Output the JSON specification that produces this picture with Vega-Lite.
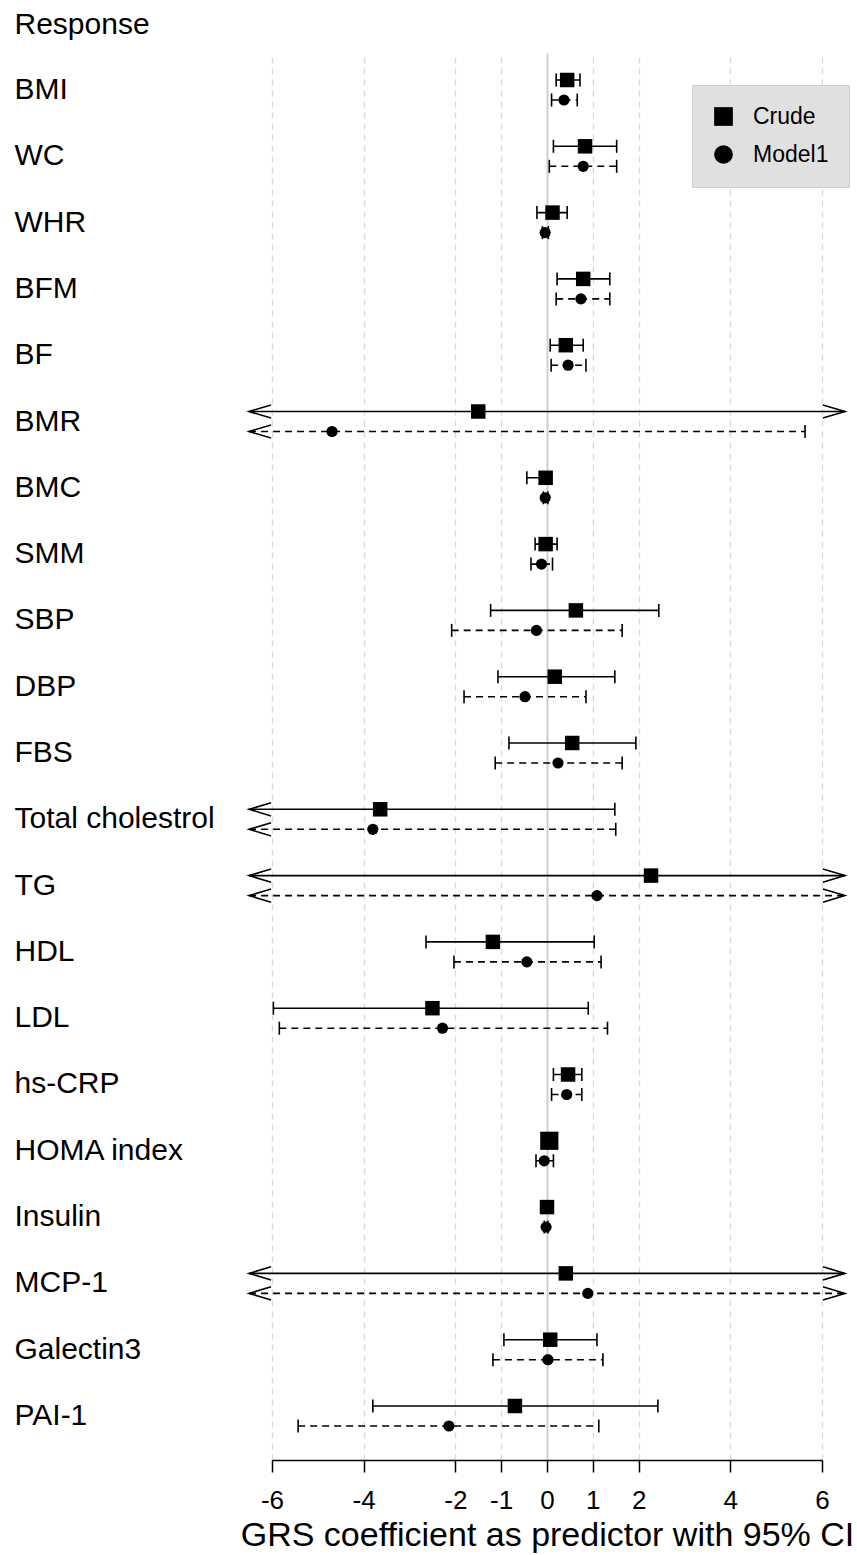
{
  "$schema": "https://vega.github.io/schema/vega-lite/v6.json",
  "width": 550,
  "height": 1407,
  "autosize": {"type": "none"},
  "padding": {"left": 272, "top": 53, "right": 35, "bottom": 95},
  "background": "white",
  "config": {"view": {"stroke": null}, "font": "Liberation Sans"},
  "data": {"values": [
    {"response": "BMI", "model": "Crude", "est": 0.44, "lo": 0.2, "hi": 0.72},
    {"response": "BMI", "model": "Model1", "est": 0.37, "lo": 0.1, "hi": 0.66},
    {"response": "WC", "model": "Crude", "est": 0.83, "lo": 0.14, "hi": 1.52},
    {"response": "WC", "model": "Model1", "est": 0.79, "lo": 0.05, "hi": 1.52},
    {"response": "WHR", "model": "Crude", "est": 0.12, "lo": -0.22, "hi": 0.44},
    {"response": "WHR", "model": "Model1", "est": -0.04, "lo": -0.1, "hi": 0.03},
    {"response": "BFM", "model": "Crude", "est": 0.79, "lo": 0.22, "hi": 1.37},
    {"response": "BFM", "model": "Model1", "est": 0.74, "lo": 0.2, "hi": 1.37},
    {"response": "BF", "model": "Crude", "est": 0.41, "lo": 0.07, "hi": 0.79},
    {"response": "BF", "model": "Model1", "est": 0.46, "lo": 0.09, "hi": 0.85},
    {"response": "BMR", "model": "Crude", "est": -1.5, "lo": -6.5, "hi": 6.5},
    {"response": "BMR", "model": "Model1", "est": -4.69, "lo": -6.5, "hi": 5.63},
    {"response": "BMC", "model": "Crude", "est": -0.03, "lo": -0.44, "hi": 0.1},
    {"response": "BMC", "model": "Model1", "est": -0.04, "lo": -0.08, "hi": 0.02},
    {"response": "SMM", "model": "Crude", "est": -0.03, "lo": -0.26, "hi": 0.22},
    {"response": "SMM", "model": "Model1", "est": -0.12, "lo": -0.35, "hi": 0.12},
    {"response": "SBP", "model": "Crude", "est": 0.63, "lo": -1.23, "hi": 2.44},
    {"response": "SBP", "model": "Model1", "est": -0.23, "lo": -2.08, "hi": 1.64},
    {"response": "DBP", "model": "Crude", "est": 0.17, "lo": -1.07, "hi": 1.48},
    {"response": "DBP", "model": "Model1", "est": -0.48, "lo": -1.81, "hi": 0.85},
    {"response": "FBS", "model": "Crude", "est": 0.55, "lo": -0.83, "hi": 1.94},
    {"response": "FBS", "model": "Model1", "est": 0.24, "lo": -1.13, "hi": 1.64},
    {"response": "Total cholestrol", "model": "Crude", "est": -3.64, "lo": -6.5, "hi": 1.48},
    {"response": "Total cholestrol", "model": "Model1", "est": -3.8, "lo": -6.5, "hi": 1.5},
    {"response": "TG", "model": "Crude", "est": 2.27, "lo": -6.5, "hi": 6.5},
    {"response": "TG", "model": "Model1", "est": 1.09, "lo": -6.5, "hi": 6.5},
    {"response": "HDL", "model": "Crude", "est": -1.18, "lo": -2.64, "hi": 1.03},
    {"response": "HDL", "model": "Model1", "est": -0.44, "lo": -2.03, "hi": 1.18},
    {"response": "LDL", "model": "Crude", "est": -2.5, "lo": -5.97, "hi": 0.9},
    {"response": "LDL", "model": "Model1", "est": -2.28, "lo": -5.84, "hi": 1.32},
    {"response": "hs-CRP", "model": "Crude", "est": 0.46, "lo": 0.14, "hi": 0.76},
    {"response": "hs-CRP", "model": "Model1", "est": 0.43, "lo": 0.1, "hi": 0.76},
    {"response": "HOMA index", "model": "Crude", "est": 0.05, "lo": -0.1, "hi": 0.2},
    {"response": "HOMA index", "model": "Model1", "est": -0.06, "lo": -0.24, "hi": 0.14},
    {"response": "Insulin", "model": "Crude", "est": 0.0, "lo": -0.05, "hi": 0.05},
    {"response": "Insulin", "model": "Model1", "est": -0.02, "lo": -0.06, "hi": 0.02},
    {"response": "MCP-1", "model": "Crude", "est": 0.41, "lo": -6.5, "hi": 6.5},
    {"response": "MCP-1", "model": "Model1", "est": 0.89, "lo": -6.5, "hi": 6.5},
    {"response": "Galectin3", "model": "Crude", "est": 0.07, "lo": -0.94, "hi": 1.09},
    {"response": "Galectin3", "model": "Model1", "est": 0.02, "lo": -1.18, "hi": 1.22},
    {"response": "PAI-1", "model": "Crude", "est": -0.7, "lo": -3.8, "hi": 2.42},
    {"response": "PAI-1", "model": "Model1", "est": -2.14, "lo": -5.43, "hi": 1.13}
  ]},
  "encoding": {
    "y": {
      "field": "response", "type": "nominal",
      "scale": {"domain": ["BMI","WC","WHR","BFM","BF","BMR","BMC","SMM","SBP","DBP","FBS","Total cholestrol","TG","HDL","LDL","hs-CRP","HOMA index","Insulin","MCP-1","Galectin3","PAI-1"], "paddingInner": 0, "paddingOuter": 0.111, "align": 0.262},
      "axis": {"title": "Response", "titleAngle": 0, "titleAlign": "left", "titleBaseline": "middle", "titleX": -258, "titleY": -29, "titleFontSize": 30, "titleFontWeight": "normal", "titleColor": "black", "titleFont": "Liberation Sans",
        "labelAlign": "left", "labelBaseline": "middle", "labelPadding": 258, "tickSize": 0, "ticks": false, "domain": false, "grid": false, "labelFontSize": 30, "labelColor": "black", "labelFont": "Liberation Sans", "labelLimit": 400}
    },
    "yOffset": {"field": "model", "type": "nominal", "scale": {"domain": ["Crude", "Model1"], "paddingInner": 0, "paddingOuter": 0.657}}
  },
  "layer": [
    {
      "mark": {"type": "rule", "color": "black", "strokeWidth": 1.6},
      "encoding": {
        "x": {"field": "lo", "type": "quantitative", "title": "GRS coefficient as predictor with 95% CI",
          "scale": {"domain": [-6, 6], "nice": false, "zero": false},
          "axis": {"values": [-6, -4, -2, -1, 0, 1, 2, 4, 6], "labelExpr": "datum.value + ''",
            "grid": true,
            "gridColor": {"condition": {"test": "datum.value === 0", "value": "#cfcfcf"}, "value": "#d9d9d9"},
            "gridDash": {"condition": {"test": "datum.value === 0", "value": []}, "value": [6, 5]},
            "gridWidth": {"condition": {"test": "datum.value === 0", "value": 2}, "value": 1.3},
            "domainColor": "black", "domainWidth": 1.5, "tickColor": "black", "tickWidth": 1.5, "tickSize": 12,
            "labelFontSize": 26, "labelColor": "black", "labelFont": "Liberation Sans", "labelPadding": 15, "labelFlush": false, "labelOverlap": false,
            "titleFontSize": 34, "titleFontWeight": "normal", "titleColor": "black", "titleFont": "Liberation Sans", "titleY": 75, "titleBaseline": "middle"}},
        "x2": {"field": "hi"},
        "strokeDash": {"condition": {"test": "datum.model === 'Model1'", "value": [7, 5]}, "value": [1, 0]}
      }
    },
    {
      "transform": [{"filter": "datum.lo >= -6"}],
      "mark": {"type": "tick", "orient": "vertical", "size": 13, "thickness": 1.6, "color": "black", "opacity": 1},
      "encoding": {"x": {"field": "lo", "type": "quantitative", "title": "GRS coefficient as predictor with 95% CI"}}
    },
    {
      "transform": [{"filter": "datum.hi <= 6"}],
      "mark": {"type": "tick", "orient": "vertical", "size": 13, "thickness": 1.6, "color": "black", "opacity": 1},
      "encoding": {"x": {"field": "hi", "type": "quantitative", "title": "GRS coefficient as predictor with 95% CI"}}
    },
    {
      "transform": [{"filter": "datum.lo < -6"}],
      "mark": {"type": "point", "shape": "M 1 -0.3 L 0 0 L 1 0.3", "filled": false, "stroke": "black", "strokeWidth": 1.6, "size": 1936, "opacity": 1},
      "encoding": {"x": {"field": "lo", "type": "quantitative", "title": "GRS coefficient as predictor with 95% CI"}}
    },
    {
      "transform": [{"filter": "datum.hi > 6"}],
      "mark": {"type": "point", "shape": "M -1 -0.3 L 0 0 L -1 0.3", "filled": false, "stroke": "black", "strokeWidth": 1.6, "size": 1936, "opacity": 1},
      "encoding": {"x": {"field": "hi", "type": "quantitative", "title": "GRS coefficient as predictor with 95% CI"}}
    },
    {
      "mark": {"type": "point", "filled": true, "color": "black", "opacity": 1, "strokeWidth": 0},
      "encoding": {
        "x": {"field": "est", "type": "quantitative", "title": "GRS coefficient as predictor with 95% CI"},
        "shape": {"field": "model", "type": "nominal",
          "scale": {"domain": ["Crude", "Model1"], "range": ["square", "circle"]},
          "legend": {"title": null, "orient": "none", "legendX": 420, "legendY": 32, "fillColor": "#e0e0e0", "strokeColor": "#cfcfcf", "padding": 20, "rowPadding": 14,
            "labelFontSize": 23, "labelFont": "Liberation Sans", "labelColor": "black", "labelOffset": 18, "symbolSize": 350, "symbolFillColor": "black", "symbolStrokeColor": "black", "symbolStrokeWidth": 0, "symbolOpacity": 1}},
        "size": {"condition": [{"test": "datum.model === 'Crude' && datum.response === 'HOMA index'", "value": 330}, {"test": "datum.model === 'Crude'", "value": 210}], "value": 125}
      }
    }
  ]
}
